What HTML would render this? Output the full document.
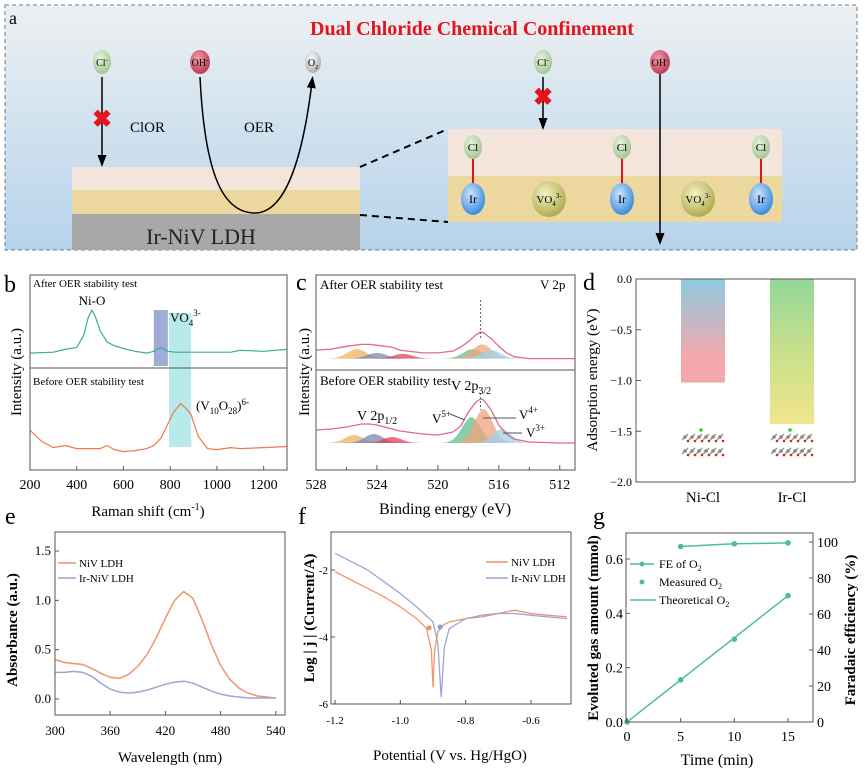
<!DOCTYPE html>
<html><head><meta charset="utf-8"><style>
body{margin:0;background:#fff;}
svg{display:block;font-family:"Liberation Serif",serif;}
</style></head><body>
<svg id="fig" width="865" height="774" viewBox="0 0 865 774" xmlns="http://www.w3.org/2000/svg">
<defs>
<linearGradient id="bgA" x1="0" y1="0" x2="0" y2="1"><stop offset="0" stop-color="#eef0f2"/><stop offset="0.45" stop-color="#d3e3ef"/><stop offset="1" stop-color="#b7d3ec"/></linearGradient>
<linearGradient id="gNi" x1="0" y1="0" x2="0" y2="1"><stop offset="0" stop-color="#8fcbe0"/><stop offset="0.45" stop-color="#c9b6c4"/><stop offset="0.75" stop-color="#f3a9ad"/><stop offset="1" stop-color="#f2a7ab"/></linearGradient>
<linearGradient id="gIr" x1="0" y1="0" x2="0" y2="1"><stop offset="0" stop-color="#93d69a"/><stop offset="0.5" stop-color="#c8e08a"/><stop offset="1" stop-color="#f1e58c"/></linearGradient>
<radialGradient id="bCl" cx="0.4" cy="0.35" r="0.7"><stop offset="0" stop-color="#e8f4e2"/><stop offset="1" stop-color="#9cc48f"/></radialGradient>
<radialGradient id="bOH" cx="0.4" cy="0.35" r="0.7"><stop offset="0" stop-color="#f0a0ac"/><stop offset="1" stop-color="#b8344e"/></radialGradient>
<radialGradient id="bO2" cx="0.4" cy="0.35" r="0.7"><stop offset="0" stop-color="#ffffff"/><stop offset="1" stop-color="#a9a9a9"/></radialGradient>
<radialGradient id="bIr" cx="0.4" cy="0.35" r="0.7"><stop offset="0" stop-color="#cfe6ff"/><stop offset="1" stop-color="#2f86dc"/></radialGradient>
<radialGradient id="bV" cx="0.4" cy="0.35" r="0.7"><stop offset="0" stop-color="#f5f2c4"/><stop offset="1" stop-color="#a9a848"/></radialGradient>
<marker id="arr" markerWidth="8" markerHeight="8" refX="4" refY="4" orient="auto"><path d="M0,1 L8,4 L0,7 z" fill="#000"/></marker>
</defs>

<g>
<rect x="5" y="5" width="852" height="245" fill="url(#bgA)" stroke="#6a7a8a" stroke-dasharray="4,3" stroke-width="1"/>
<text x="9" y="24" font-size="18">a</text>
<text x="472" y="35" font-size="20" font-weight="bold" fill="#e2141c" text-anchor="middle">Dual Chloride Chemical Confinement</text>
<rect x="72" y="167" width="288" height="23" fill="#f3e5dc"/>
<rect x="72" y="190" width="288" height="24" fill="#ecd79f"/>
<rect x="72" y="214" width="288" height="36" fill="#a8a8a8"/>
<text x="201" y="244" font-size="22" text-anchor="middle" fill="#222">Ir-NiV LDH</text>
<line x1="102" y1="77" x2="102" y2="161" stroke="#000" stroke-width="1.5" marker-end="url(#arr)"/>
<text x="102" y="127" font-size="24" font-weight="bold" fill="#e8141c" text-anchor="middle">✖</text>
<text x="130" y="132" font-size="15">ClOR</text>
<text x="259" y="132" font-size="15" text-anchor="middle">OER</text>
<path d="M200,77 C205,180 225,213 255,213 C290,213 305,140 312,82" fill="none" stroke="#000" stroke-width="1.5" marker-end="url(#arr)"/>
<g><ellipse cx="102" cy="62" rx="9" ry="12" fill="url(#bCl)"/><text x="102" y="66" font-size="10" text-anchor="middle">Cl<tspan dy="-4" font-size="7">-</tspan></text></g>
<g><ellipse cx="200" cy="62" rx="10" ry="12" fill="url(#bOH)"/><text x="200" y="66" font-size="10" text-anchor="middle">OH<tspan dy="-4" font-size="7">-</tspan></text></g>
<g><ellipse cx="313" cy="62" rx="8" ry="11" fill="url(#bO2)"/><text x="313" y="66" font-size="10" text-anchor="middle">O<tspan dy="3" font-size="6">2</tspan></text></g>
<line x1="360" y1="167" x2="448" y2="129" stroke="#000" stroke-width="2" stroke-dasharray="7,5"/>
<line x1="360" y1="215" x2="448" y2="222" stroke="#000" stroke-width="2" stroke-dasharray="7,5"/>
<rect x="448" y="129" width="334" height="47" fill="#f3e5dc"/>
<rect x="448" y="176" width="334" height="46" fill="#ecd79f"/>
<g id="ircl"></g>
<line x1="543" y1="77" x2="543" y2="124" stroke="#000" stroke-width="1.5" marker-end="url(#arr)"/>
<text x="543" y="105" font-size="24" font-weight="bold" fill="#e8141c" text-anchor="middle">✖</text>
<g><ellipse cx="543" cy="62" rx="9" ry="12" fill="url(#bCl)"/><text x="543" y="66" font-size="10" text-anchor="middle">Cl<tspan dy="-4" font-size="7">-</tspan></text></g>
<line x1="660" y1="74" x2="660" y2="239" stroke="#000" stroke-width="1.5" marker-end="url(#arr)"/>
<g><ellipse cx="660" cy="62" rx="10" ry="12" fill="url(#bOH)"/><text x="660" y="66" font-size="10" text-anchor="middle">OH<tspan dy="-4" font-size="7">-</tspan></text></g>
</g>

<g font-size="24">
<text x="4" y="292">b</text>
<text x="296" y="290">c</text>
<text x="583" y="290">d</text>
<text x="5" y="524">e</text>
<text x="298" y="524">f</text>
<text x="593" y="524">g</text>
</g>
<g id="charts"></g>
</svg>
<script>
const ramanAfterX=[200,300,350,400,430,450,465,480,500,530,560,600,650,700,730,760,790,820,900,1000,1060,1100,1200,1300];
const ramanAfterY=[0.16,0.17,0.20,0.22,0.35,0.55,0.62,0.55,0.40,0.28,0.24,0.21,0.18,0.16,0.18,0.22,0.18,0.17,0.17,0.17,0.17,0.19,0.18,0.20];
const ramanBeforeX=[200,250,300,350,400,450,500,530,560,600,650,700,730,760,790,815,845,870,890,920,960,1000,1060,1100,1200,1300];
const ramanBeforeY=[0.39,0.28,0.22,0.24,0.21,0.21,0.21,0.24,0.20,0.18,0.19,0.21,0.24,0.31,0.45,0.57,0.65,0.60,0.54,0.33,0.21,0.20,0.22,0.21,0.22,0.23];
const ramanTicks=[200,400,600,800,1000,1200];
const xpsE=[528,527,526,525,524.5,524,523,522.5,521,520,519,518.5,518,517.5,517.2,517,516.5,516,515.5,515,514,512,511];
const xpsAfter=[0.21,0.22,0.25,0.27,0.27,0.26,0.24,0.21,0.18,0.18,0.20,0.24,0.30,0.37,0.40,0.39,0.33,0.25,0.18,0.14,0.12,0.12,0.12];
const xpsBefore=[0.40,0.41,0.43,0.46,0.46,0.45,0.41,0.39,0.36,0.35,0.38,0.44,0.58,0.68,0.71,0.70,0.60,0.45,0.36,0.31,0.28,0.27,0.27];
const xpsPeaksBeforeC=[525.5,524.2,523.0,517.8,517.0,515.8];
const xpsPeaksBeforeH=[0.08,0.09,0.06,0.26,0.34,0.14];
const xpsPeaksAfterC=[525.3,524.0,522.3,517.7,517.1,516.5];
const xpsPeaksAfterH=[0.10,0.06,0.05,0.10,0.15,0.09];
const xpsColors=["#f0b060","#7a88b0","#e0405a","#5cc08c","#f4a27e","#9fd0ec"];
const xpsTicks=[528,524,520,516,512];
const dCats=["Ni-Cl","Ir-Cl"];
const dVals=[-1.02,-1.43];
const dTicks=[0,-0.5,-1.0,-1.5,-2.0];
const uvX=[300,310,320,330,340,350,360,370,380,390,400,410,420,430,440,450,460,470,480,490,500,510,520,530,540];
const uvNiV=[0.40,0.37,0.36,0.35,0.31,0.26,0.22,0.21,0.25,0.33,0.45,0.62,0.82,1.00,1.09,1.02,0.80,0.55,0.34,0.20,0.11,0.06,0.03,0.02,0.01];
const uvIrNiV=[0.27,0.27,0.28,0.27,0.23,0.16,0.10,0.07,0.06,0.07,0.09,0.12,0.15,0.17,0.18,0.16,0.12,0.08,0.05,0.03,0.02,0.01,0.01,0.01,0.01];
const uvXTicks=[300,360,420,480,540];
const uvYTicks=[0.0,0.5,1.0,1.5];
const tafX1=[-1.2,-1.15,-1.1,-1.05,-1.0,-0.95,-0.92,-0.905,-0.9,-0.895,-0.885,-0.87,-0.85,-0.8,-0.75,-0.7,-0.65,-0.6,-0.55,-0.49];
const tafNiV=[-2.05,-2.3,-2.55,-2.8,-3.1,-3.45,-3.75,-4.4,-5.5,-4.4,-3.85,-3.65,-3.55,-3.45,-3.4,-3.3,-3.2,-3.3,-3.35,-3.4];
const tafX2=[-1.2,-1.15,-1.1,-1.05,-1.0,-0.95,-0.9,-0.885,-0.875,-0.865,-0.85,-0.8,-0.75,-0.7,-0.65,-0.6,-0.55,-0.49];
const tafIr=[-1.5,-1.75,-2.0,-2.35,-2.7,-3.1,-3.55,-4.2,-5.8,-4.3,-3.75,-3.45,-3.35,-3.3,-3.3,-3.35,-3.4,-3.45];
const tafXTicks=[-1.2,-1.0,-0.8,-0.6];
const tafYTicks=[-2,-4,-6];
const gTime=[0,5,10,15];
const gMeasured=[0,0.155,0.305,0.465];
const gFeTime=[5,10,15];
const gFE=[97.5,99,99.5];
const gXTicks=[0,5,10,15];
const gYTicks=[0,0.2,0.4,0.6];
const gY2Ticks=[0,20,40,60,80,100];

const NS="http://www.w3.org/2000/svg";
const root=document.getElementById('charts');
function el(tag,attrs,parent,txt){const e=document.createElementNS(NS,tag);for(const k in attrs)e.setAttribute(k,attrs[k]);if(txt!==undefined)e.textContent=txt;(parent||root).appendChild(e);return e;}
function lin(d0,d1,r0,r1){return v=>r0+(v-d0)/(d1-d0)*(r1-r0);}
function pathD(xs,ys,sx,sy){return xs.map((x,i)=>(i?'L':'M')+sx(x).toFixed(1)+','+sy(ys[i]).toFixed(1)).join(' ');}
function frame(x,y,w,h,name){const r=el('rect',{x:x,y:y,width:w,height:h,fill:'none',stroke:'#555','stroke-width':1});

return r;}

(function(){const g=document.getElementById('ircl');
[473,622,761].forEach(x=>{
 el('line',{x1:x,y1:158,x2:x,y2:186,stroke:'#e0141c','stroke-width':2},g);
 el('ellipse',{cx:x,cy:147,rx:9,ry:12,fill:'url(#bCl)'},g);el('text',{x:x,y:151,'font-size':11,'text-anchor':'middle'},g,'Cl');
 el('ellipse',{cx:x,cy:199,rx:12,ry:16,fill:'url(#bIr)'},g);el('text',{x:x,y:203,'font-size':12,'text-anchor':'middle'},g,'Ir');});
[549,698].forEach(x=>{el('ellipse',{cx:x,cy:199,rx:17,ry:18,fill:'url(#bV)'},g);
 const t=el('text',{x:x,y:203,'font-size':11,'text-anchor':'middle'},g);t.innerHTML='VO<tspan dy="3" font-size="7">4</tspan><tspan dy="-8" font-size="7">3-</tspan>';});
})();

(function(){
const L=30,R=287,T=275,M=368,B=470;
const sx=lin(200,1300,L,R), syA=lin(0,1,M,T), syB=lin(0,1,B,M);
const g=el('g',{});


el('rect',{x:sx(730),y:310,width:sx(790)-sx(730),height:56,fill:'#8e9ed0',opacity:0.85},g);
el('rect',{x:sx(795),y:313,width:sx(890)-sx(795),height:134,fill:'#a6e4e6',opacity:0.8},g);
const p1=el('path',{d:pathD(ramanAfterX,ramanAfterY,sx,syA),fill:'none',stroke:'#3aae8a','stroke-width':1.2},g);

const p2=el('path',{d:pathD(ramanBeforeX,ramanBeforeY,sx,syB),fill:'none',stroke:'#ee7a4a','stroke-width':1.2},g);

frame(L,T,R-L,B-T,'raman-frame');
el('line',{x1:L,y1:M,x2:R,y2:M,stroke:'#555'},g);
ramanTicks.forEach(t=>{el('line',{x1:sx(t),y1:B,x2:sx(t),y2:B-4,stroke:'#555'},g);
 const lb=el('text',{x:sx(t),y:489,'font-size':14,'text-anchor':'middle'},g,String(t));
 });
el('text',{x:33,y:287,'font-size':11},g,'After OER stability test');
el('text',{x:33,y:385,'font-size':11},g,'Before OER stability test');
el('text',{x:92,y:305,'font-size':13,'text-anchor':'middle'},g,'Ni-O');
const v=el('text',{x:170,y:322,'font-size':13},g);v.innerHTML='VO<tspan dy="4" font-size="9">4</tspan><tspan dy="-10" font-size="9">3-</tspan>';
const v2=el('text',{x:196,y:410,'font-size':13},g);v2.innerHTML='(V<tspan dy="4" font-size="9">10</tspan><tspan dy="-4">O</tspan><tspan dy="4" font-size="9">28</tspan><tspan dy="-4">)</tspan><tspan dy="-5" font-size="9">6-</tspan>';
const xt=el('text',{x:148,y:516,'font-size':15,'text-anchor':'middle'},g);xt.innerHTML='Raman shift (cm<tspan dy="-6" font-size="10">-1</tspan><tspan dy="6">)</tspan>';

const yt=el('text',{x:0,y:0,'font-size':15,'text-anchor':'middle',transform:'translate(21,372) rotate(-90)'},g,'Intensity (a.u.)');

})();

(function(){
const L=316,R=575,T=275,M=370,B=470;
const sx=lin(528,511,L,R), syA=lin(0,1,M,T), syB=lin(0,1,B,M);
const g=el('g',{});


function peaks(cs,hs,base,sy,w){cs.forEach((c,i)=>{const xs=[],ys=[];for(let e=c+2.2;e>=c-2.2;e-=0.2){xs.push(e);ys.push(base+hs[i]*Math.exp(-Math.pow((e-c)/w,2)));}
 const d=pathD(xs,ys,sx,sy)+' Z';const p=el('path',{d:d,fill:xpsColors[i],opacity:0.75},g);
 });}
peaks(xpsPeaksAfterC,xpsPeaksAfterH,0.12,syA,0.9);
peaks(xpsPeaksBeforeC,xpsPeaksBeforeH,0.27,syB,0.85);
const a=el('path',{d:pathD(xpsE,xpsAfter,sx,syA),fill:'none',stroke:'#e06a8a','stroke-width':1.3},g);

const b=el('path',{d:pathD(xpsE,xpsBefore,sx,syB),fill:'none',stroke:'#e06a8a','stroke-width':1.3},g);

el('line',{x1:sx(517.2),y1:300,x2:sx(517.2),y2:340,stroke:'#666','stroke-dasharray':'2,2'},g);
el('line',{x1:sx(517.2),y1:393,x2:sx(517.2),y2:410,stroke:'#666','stroke-dasharray':'2,2'},g);
frame(L,T,R-L,B-T,'xps-frame');
el('line',{x1:L,y1:M,x2:R,y2:M,stroke:'#555'},g);
for(let t=528;t>=511;t-=2){el('line',{x1:sx(t),y1:B,x2:sx(t),y2:B-(t%4===0?5:3),stroke:'#555'},g);}
xpsTicks.forEach(t=>{const lb=el('text',{x:sx(t),y:489,'font-size':14,'text-anchor':'middle'},g,String(t));});
el('text',{x:320,y:289,'font-size':13},g,'After OER stability test');
el('text',{x:540,y:289,'font-size':13},g,'V 2p');
el('text',{x:320,y:385,'font-size':13},g,'Before OER stability test');
const t1=el('text',{x:451,y:390,'font-size':14},g);t1.innerHTML='V 2p<tspan dy="4" font-size="10">3/2</tspan>';
const t2=el('text',{x:357,y:420,'font-size':14},g);t2.innerHTML='V 2p<tspan dy="4" font-size="10">1/2</tspan>';
const t3=el('text',{x:432,y:423,'font-size':13},g);t3.innerHTML='V<tspan dy="-6" font-size="9">5+</tspan>';
const t4=el('text',{x:519,y:419,'font-size':13},g);t4.innerHTML='V<tspan dy="-6" font-size="9">4+</tspan>';
const t5=el('text',{x:526,y:437,'font-size':13},g);t5.innerHTML='V<tspan dy="-6" font-size="9">3+</tspan>';
el('line',{x1:450,y1:414,x2:465,y2:420,stroke:'#555'},g);
el('line',{x1:483,y1:418,x2:516,y2:418,stroke:'#555'},g);
el('line',{x1:503,y1:433,x2:522,y2:433,stroke:'#555'},g);
const xt=el('text',{x:445,y:514,'font-size':16,'text-anchor':'middle'},g,'Binding energy (eV)');
const yt=el('text',{x:0,y:0,'font-size':15,'text-anchor':'middle',transform:'translate(309,372) rotate(-90)'},g,'Intensity (a.u.)');
})();

(function(){
const L=636,R=855,T=279,B=482;
const sy=lin(0,-2,T,B);
const bx=[703,792];
const g=el('g',{});


dCats.forEach((c,i)=>{const r=el('rect',{x:bx[i]-22,y:sy(0),width:44,height:sy(dVals[i])-sy(0),fill:i?'url(#gIr)':'url(#gNi)'},g);
 
 const lb=el('text',{x:bx[i],y:502,'font-size':15,'text-anchor':'middle'},g,c);
 for(let row=0;row<2;row++)for(let k=0;k<6;k++){const cx=bx[i]-18+k*7,cy=437+row*14;
  el('line',{x1:cx-3,y1:cy+3,x2:cx+3,y2:cy-3,stroke:'#999','stroke-width':1.5},g);
  el('circle',{cx:cx,cy:cy,r:1.8,fill:'#888'},g);el('circle',{cx:cx+3,cy:cy+4,r:1.3,fill:'#d22'},g);}
 el('circle',{cx:bx[i]-2,cy:430,r:1.8,fill:'#3c3'},g);
});
frame(L,T,R-L,B-T,'adsorption-frame');
dTicks.forEach(t=>{el('line',{x1:L,y1:sy(t),x2:L+5,y2:sy(t),stroke:'#555'},g);
 const lb=el('text',{x:L-4,y:sy(t)+4,'font-size':12,'text-anchor':'end'},g,(t===0?'0.0':t.toFixed(1)).replace('-','−'));});
const yt=el('text',{x:0,y:0,'font-size':15,'text-anchor':'middle',transform:'translate(597,380) rotate(-90)'},g,'Adsorption energy (eV)');
})();

(function(){
const L=55,R=285,T=532,B=715;
const sx=lin(300,550,L,R), sy=lin(0,1.5,699,551);
const g=el('g',{});


const a=el('path',{d:pathD(uvX,uvNiV,sx,sy),fill:'none',stroke:'#f0946a','stroke-width':1.5},g);
const b=el('path',{d:pathD(uvX,uvIrNiV,sx,sy),fill:'none',stroke:'#9ea4d6','stroke-width':1.5},g);
frame(L,T,R-L,B-T,'uvvis-frame');
uvXTicks.forEach(t=>{el('line',{x1:sx(t),y1:B,x2:sx(t),y2:B-4,stroke:'#555'},g);const lb=el('text',{x:sx(t),y:735,'font-size':13,'text-anchor':'middle'},g,String(t));});
uvYTicks.forEach(t=>{el('line',{x1:L,y1:sy(t),x2:L+4,y2:sy(t),stroke:'#555'},g);const lb=el('text',{x:L-4,y:sy(t)+4,'font-size':13,'text-anchor':'end'},g,t.toFixed(1));});
el('line',{x1:58,y1:563,x2:76,y2:563,stroke:'#f0946a','stroke-width':1.5},g);el('text',{x:79,y:567,'font-size':11},g,'NiV LDH');
el('line',{x1:58,y1:578,x2:76,y2:578,stroke:'#9ea4d6','stroke-width':1.5},g);el('text',{x:79,y:582,'font-size':11},g,'Ir-NiV LDH');
const xt=el('text',{x:170,y:762,'font-size':15,'text-anchor':'middle'},g,'Wavelength (nm)');
const yt=el('text',{x:0,y:0,'font-size':15,'font-weight':'bold','text-anchor':'middle',transform:'translate(17,630) rotate(-90)'},g,'Absorbance (a.u.)');
})();

(function(){
const L=331,R=571,T=532,B=704;
const sx=lin(-1.2,-0.6,335,531), sy=lin(-2,-6,570,704);
const g=el('g',{});


const a=el('path',{d:pathD(tafX1,tafNiV,sx,sy),fill:'none',stroke:'#f0946a','stroke-width':1.3},g);
const b=el('path',{d:pathD(tafX2,tafIr,sx,sy),fill:'none',stroke:'#9ea4d6','stroke-width':1.3},g);
el('circle',{cx:sx(-0.912),cy:sy(-3.73),r:2.5,fill:'#f0946a'},g);el('circle',{cx:sx(-0.878),cy:sy(-3.7),r:2.5,fill:'#7fa0d8'},g);
frame(L,T,R-L,B-T,'tafel-frame');
tafXTicks.forEach(t=>{el('line',{x1:sx(t),y1:B,x2:sx(t),y2:B-4,stroke:'#555'},g);const lb=el('text',{x:sx(t),y:724,'font-size':11,'text-anchor':'middle'},g,t.toFixed(1));});
tafYTicks.forEach(t=>{el('line',{x1:L,y1:sy(t),x2:L+4,y2:sy(t),stroke:'#555'},g);const lb=el('text',{x:L-3,y:sy(t)+4,'font-size':11,'text-anchor':'end'},g,String(t));});
el('line',{x1:486,y1:562,x2:508,y2:562,stroke:'#f0946a','stroke-width':1.5},g);el('text',{x:511,y:566,'font-size':11},g,'NiV LDH');
el('line',{x1:486,y1:578,x2:508,y2:578,stroke:'#9ea4d6','stroke-width':1.5},g);el('text',{x:511,y:582,'font-size':11},g,'Ir-NiV LDH');
const xt=el('text',{x:450,y:760,'font-size':15,'text-anchor':'middle'},g,'Potential (V vs. Hg/HgO)');
const yt=el('text',{x:0,y:0,'font-size':15,'font-weight':'bold','text-anchor':'middle',transform:'translate(314,618) rotate(-90)'},g,'Log | j | (Current/A)');
})();

(function(){
const L=626,R=813,T=533,B=722;
const sx=lin(0,15,627,788), sy=lin(0,0.6,722,559), sy2=lin(0,100,722,542);
const g=el('g',{});


const c='#4cbf94';
const th=el('path',{d:pathD([gTime[0],gTime[gTime.length-1]],[gMeasured[0],gMeasured[gMeasured.length-1]],sx,sy),stroke:c,'stroke-width':1.5,fill:'none'},g);
gTime.forEach((t,i)=>{const p=el('circle',{cx:sx(t),cy:sy(gMeasured[i]),r:2.8,fill:c},g);});
const fe=el('path',{d:pathD(gFeTime,gFE,sx,sy2),stroke:c,'stroke-width':1.5,fill:'none'},g);
gFeTime.forEach((t,i)=>{const p=el('circle',{cx:sx(t),cy:sy2(gFE[i]),r:2.8,fill:c},g);});
frame(L,T,R-L,B-T,'gas-frame');
gXTicks.forEach(t=>{el('line',{x1:sx(t),y1:B,x2:sx(t),y2:B-4,stroke:'#555'},g);const lb=el('text',{x:sx(t),y:741,'font-size':14,'text-anchor':'middle'},g,String(t));});
gYTicks.forEach(t=>{el('line',{x1:L,y1:sy(t),x2:L+4,y2:sy(t),stroke:'#555'},g);const lb=el('text',{x:L-3,y:sy(t)+5,'font-size':14,'text-anchor':'end'},g,t.toFixed(1));});
gY2Ticks.forEach(t=>{el('line',{x1:R,y1:sy2(t),x2:R-4,y2:sy2(t),stroke:'#555'},g);const lb=el('text',{x:R+4,y:sy2(t)+5,'font-size':14},g,String(t));});
el('line',{x1:630,y1:564,x2:654,y2:564,stroke:c,'stroke-width':1.5},g);el('circle',{cx:642,cy:564,r:2.5,fill:c},g);
const l1=el('text',{x:659,y:568,'font-size':12},g);l1.innerHTML='FE of O<tspan dy="3" font-size="8">2</tspan>';
el('circle',{cx:642,cy:582,r:2.5,fill:c},g);
const l2=el('text',{x:659,y:586,'font-size':12},g);l2.innerHTML='Measured O<tspan dy="3" font-size="8">2</tspan>';
el('line',{x1:630,y1:600,x2:656,y2:600,stroke:c,'stroke-width':1.5},g);
const l3=el('text',{x:659,y:604,'font-size':12},g);l3.innerHTML='Theoretical O<tspan dy="3" font-size="8">2</tspan>';
const xt=el('text',{x:717,y:765,'font-size':16,'text-anchor':'middle'},g,'Time (min)');
const yt=el('text',{x:0,y:0,'font-size':15,'font-weight':'bold','text-anchor':'middle',transform:'translate(598,628) rotate(-90)'},g,'Evoluted gas amount (mmol)');
const yt2=el('text',{x:0,y:0,'font-size':15,'font-weight':'bold','text-anchor':'middle',transform:'translate(855,630) rotate(-90)'},g,'Faradaic efficiency (%)');
})();
</script>
</body></html>
